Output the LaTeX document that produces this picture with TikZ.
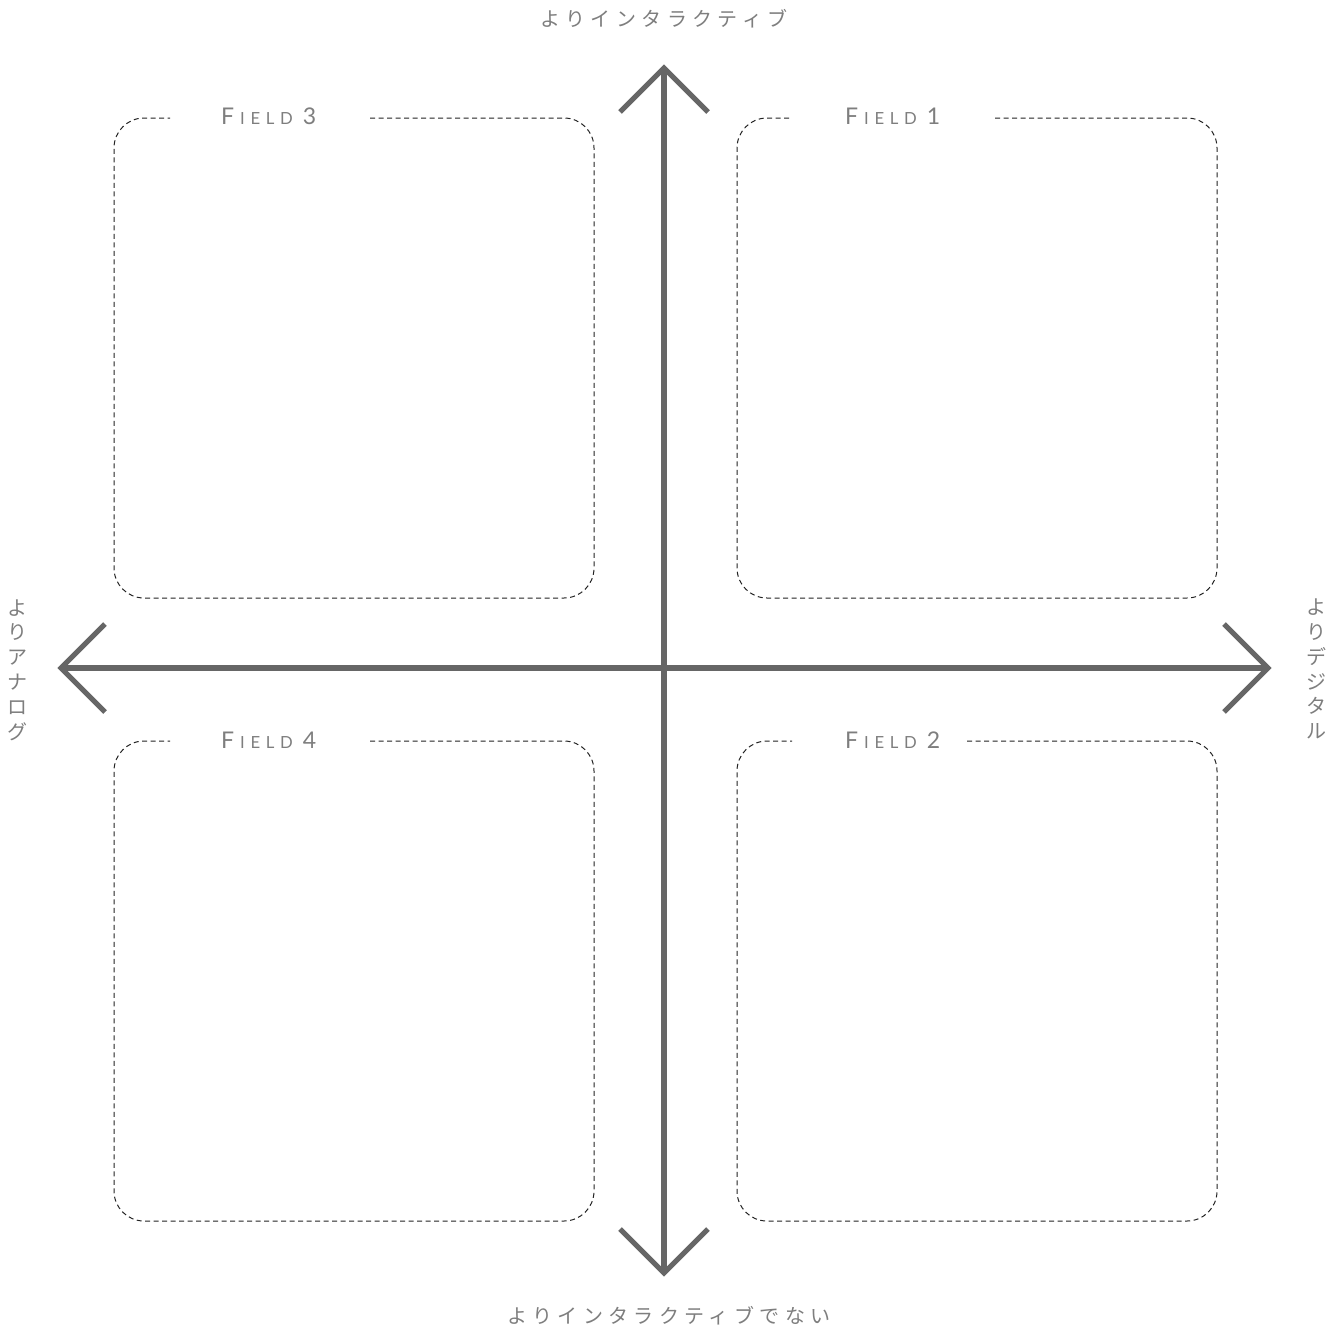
\documentclass[tikz,border=0pt]{standalone}
\usepackage{fontspec}
\usetikzlibrary{calc}
\newfontfamily\jpfont{Noto Sans CJK JP}
\newfontfamily\latfont{Lato}
\definecolor{axisgray}{HTML}{666666}
\definecolor{txtgray}{HTML}{7E7E7E}
\definecolor{boxline}{HTML}{222222}
\newcommand\fieldlab[2]{{\fontsize{23}{23}\selectfont #1}\kern6pt{\fontsize{16.7}{18}\selectfont #2}}
\newcommand\fieldnum[1]{{\fontsize{23}{23}\selectfont #1}}
\tikzset{
  axisline/.style={draw=axisgray, line width=5.2pt, line cap=butt, line join=miter},
  fieldbox/.style={draw=boxline, line width=1pt, dash pattern=on 5pt off 3.5pt, rounded corners=30pt},
  flabel/.style={anchor=base west, inner sep=0pt, text=txtgray, font={\latfont\addfontfeatures{LetterSpace=34}}},
  jplabel/.style={inner sep=0pt, text=txtgray, font={\jpfont\fontsize{20}{24.8}\selectfont\addfontfeatures{LetterSpace=27}}},
  jpvert/.style={inner sep=0pt, text=txtgray, align=center, font={\jpfont\fontsize{20}{24.8}\selectfont}}
}
\begin{document}
\begin{tikzpicture}[x=1pt,y=-1pt]
\useasboundingbox (0,0) rectangle (1343,1330);
% axis end points
\coordinate (top) at (664,68);
\coordinate (bot) at (664,1273);
\coordinate (lft) at (61,668);
\coordinate (rgt) at (1268,668);
% axes
\draw[axisline] (top) -- (bot);
\draw[axisline] (lft) -- (rgt);
% arrow heads
\draw[axisline] ($(top)+(-44,44)$) -- (top) -- ($(top)+(44,44)$);
\draw[axisline] ($(bot)+(-44,-44)$) -- (bot) -- ($(bot)+(44,-44)$);
\draw[axisline] ($(lft)+(44,-44)$) -- (lft) -- ($(lft)+(44,44)$);
\draw[axisline] ($(rgt)+(-44,-44)$) -- (rgt) -- ($(rgt)+(-44,44)$);
% boxes (gap on top edge for the label)
\draw[fieldbox] (370,118) -- (594,118) -- (594,598) -- (114,598) -- (114,118) -- (170,118);
\draw[fieldbox] (995,118) -- (1217,118) -- (1217,598) -- (737,598) -- (737,118) -- (792,118);
\draw[fieldbox] (370,741) -- (594,741) -- (594,1221) -- (114,1221) -- (114,741) -- (170,741);
\draw[fieldbox] (967,741) -- (1217,741) -- (1217,1221) -- (737,1221) -- (737,741) -- (792,741);
% field labels
\node[flabel] (f3) at (221,124) {\fieldlab{F}{IELD}\hspace{10pt}\fieldnum{3}};
\node[flabel] (f1) at (845,124) {\fieldlab{F}{IELD}\hspace{10pt}\fieldnum{1}};
\node[flabel] (f4) at (221,748) {\fieldlab{F}{IELD}\hspace{10pt}\fieldnum{4}};
\node[flabel] (f2) at (845,748) {\fieldlab{F}{IELD}\hspace{10pt}\fieldnum{2}};
% axis labels
\node[jplabel] (ltop) at (664,19) {よりインタラクティブ};
\node[jplabel] (lbot) at (669,1316) {よりインタラクティブでない};
\node[jpvert] (llft) at (18,670) {よ\\り\\ア\\ナ\\ロ\\グ};
\node[jpvert] (lrgt) at (1316,669) {よ\\り\\デ\\ジ\\タ\\ル};
\end{tikzpicture}
\end{document}
